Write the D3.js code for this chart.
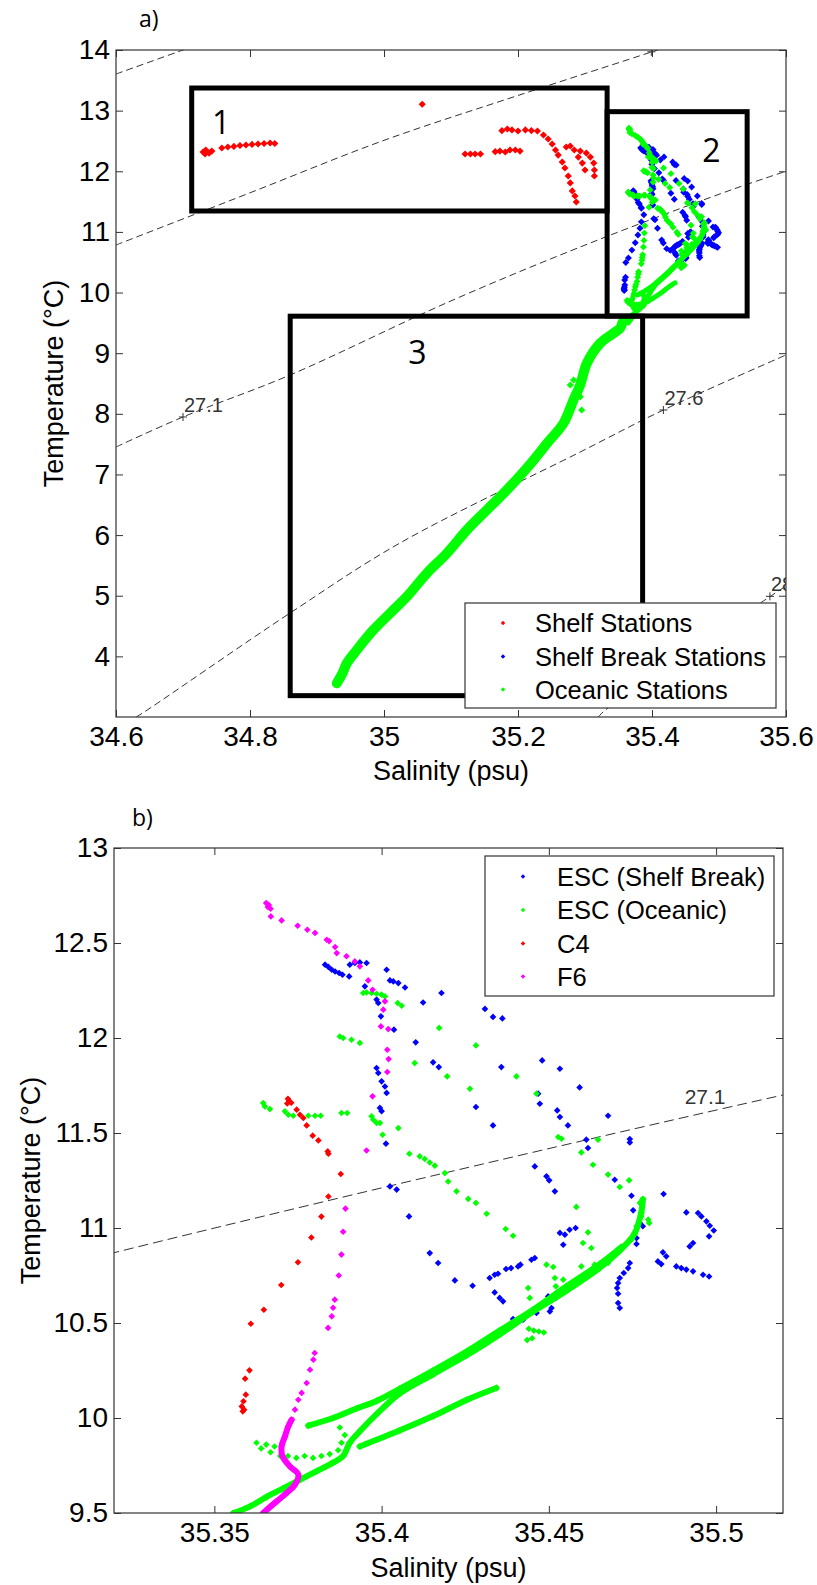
<!DOCTYPE html>
<html>
<head>
<meta charset="utf-8">
<script src="https://cdn.jsdelivr.net/npm/d3@7"></script>
<style>
  body { margin: 0; background: #fff; }
  svg text { font-family: "Liberation Sans", Arial, sans-serif; }
</style>
</head>
<body>
<svg id="chart" width="817" height="1585"></svg>
<script>
// ---- data: [salinity (psu), temperature (degC)] ----

// panel a, shelf stations (red)
const shelfStations = [
  [34.730,12.318],[34.734,12.351],[34.739,12.301],[34.743,12.334],[34.733,12.285],
  [34.758,12.384],[34.767,12.400],[34.776,12.409],[34.785,12.425],[34.794,12.433],
  [34.803,12.442],[34.812,12.450],[34.821,12.458],[34.830,12.466],[34.837,12.458],
  [35.057,13.105],
  [35.121,12.285],[35.129,12.285],[35.136,12.285],[35.144,12.285],
  [35.166,12.323],[35.173,12.334],[35.181,12.318],[35.188,12.351],[35.196,12.351],[35.203,12.334],
  [35.176,12.669],[35.184,12.697],[35.191,12.681],[35.200,12.664],[35.211,12.681],[35.220,12.672],[35.229,12.664],
  [35.238,12.598],[35.245,12.532],[35.251,12.450],[35.256,12.351],[35.260,12.268],[35.266,12.153],
  [35.270,12.054],[35.275,11.922],[35.278,11.807],[35.281,11.675],[35.285,11.592],[35.287,11.493],
  [35.272,12.400],[35.278,12.417],[35.284,12.351],[35.290,12.235],[35.296,12.136],[35.300,12.021],
  [35.293,12.334],[35.302,12.301],[35.308,12.235],[35.313,12.136],[35.314,12.021],[35.314,11.922]
];

// ESC shelf break stations (blue)
const escShelfBreak = [
  [35.3831,12.386],[35.3841,12.374],[35.3851,12.359],[35.3861,12.350],[35.3873,12.342],[35.3883,12.333],
  [35.3903,12.324],[35.3905,12.386],[35.3920,12.395],[35.3935,12.398],[35.3955,12.395],[35.3950,12.272],
  [35.3985,12.202],[35.3990,12.184],[35.3998,12.114],[35.4015,12.359],[35.4025,12.303],[35.4035,12.298],
  [35.4050,12.289],[35.4070,12.266],[35.4037,12.044],[35.4124,12.187],[35.4179,12.237],[35.4102,11.977],
  [35.4154,11.872],[35.4171,11.847],[35.3985,11.842],[35.3990,11.816],[35.4000,11.772],[35.4010,11.745],
  [35.4015,11.711],[35.3995,11.632],[35.4000,11.615],[35.4013,11.444],[35.4025,11.219],[35.4045,11.202],
  [35.4082,11.061],
  [35.4309,12.153],[35.4333,12.111],[35.4361,12.103],[35.4358,11.847],[35.4480,11.882],[35.4533,11.838],
  [35.4592,11.740],[35.4468,11.707],[35.4473,11.654],[35.4525,11.619],[35.4533,11.584],[35.4557,11.540],
  [35.4677,11.591],[35.4282,11.637],[35.4333,11.540],[35.4612,11.465],[35.4617,11.421],[35.4742,11.468],
  [35.4742,11.450],
  [35.4458,11.324],[35.4493,11.272],[35.4501,11.251],[35.4518,11.193],[35.4144,10.868],[35.4169,10.816],
  [35.4219,10.724],[35.4272,10.696],[35.4323,10.737],[35.4338,10.754],[35.4348,10.759],[35.4372,10.784],
  [35.4387,10.789],[35.4408,10.798],[35.4415,10.807],[35.4448,10.833],[35.4458,10.842],[35.4338,10.661],
  [35.4353,10.632],[35.4363,10.614],[35.4393,10.521],[35.4408,10.517],[35.4423,10.517],[35.4463,10.553],
  [35.4503,10.561],[35.4508,10.579],[35.4521,10.632],[35.4498,10.640],[35.4523,10.658],[35.4533,10.974],
  [35.4548,10.965],[35.4562,10.991],[35.4580,11.000],[35.4543,10.912],[35.4697,11.254],[35.4747,11.170],
  [35.4752,11.093],[35.4772,11.026],[35.4781,11.009],[35.4762,10.947],[35.4762,10.916],[35.4742,10.816],
  [35.4737,10.789],[35.4724,10.763],[35.4712,10.737],[35.4707,10.710],[35.4704,10.684],[35.4707,10.654],
  [35.4707,10.605],[35.4712,10.579],[35.4843,11.179],[35.4911,11.082],[35.4946,11.079],[35.4956,11.061],
  [35.4971,11.035],[35.4981,11.012],[35.4993,10.987],[35.4979,10.956],[35.4931,10.921],[35.4921,10.903],
  [35.4841,10.872],[35.4851,10.851],[35.4826,10.824],[35.4836,10.810],[35.4881,10.798],[35.4896,10.789],
  [35.4911,10.781],[35.4931,10.772],[35.4961,10.754],[35.4979,10.745]
];

// ESC oceanic stations (green), scattered part
const escOceanic = [
  [35.3945,12.237],[35.3955,12.240],[35.3970,12.237],[35.3985,12.233],[35.4000,12.228],[35.4010,12.219],
  [35.4048,12.184],[35.4060,12.170],[35.4172,12.053],[35.3875,12.008],[35.3885,12.000],[35.3910,11.991],
  [35.3935,11.974],[35.4099,11.868],[35.4196,11.798],
  [35.3646,11.658],[35.3651,11.640],[35.3666,11.626],[35.3711,11.614],[35.3721,11.596],[35.3736,11.591],
  [35.3781,11.591],[35.3801,11.591],[35.3818,11.591],[35.3880,11.605],[35.3897,11.605],[35.3970,11.588],
  [35.3975,11.570],[35.3985,11.553],[35.3995,11.553],[35.4003,11.491],[35.4050,11.526],[35.4083,11.391],
  [35.4114,11.377],[35.4129,11.363],[35.4144,11.345],[35.4159,11.328],[35.4189,11.289],[35.4199,11.245],
  [35.4282,11.961],[35.4403,11.798],[35.4264,11.733],[35.4463,11.707],[35.4528,11.479],[35.4538,11.470],
  [35.4647,11.465],[35.4597,11.398],
  [35.4224,11.193],[35.4259,11.153],[35.4282,11.132],[35.4314,11.075],[35.4371,10.995],[35.4393,10.959],
  [35.4632,11.333],[35.4677,11.281],[35.4712,11.216],[35.4740,11.251],[35.4582,11.111],[35.4617,10.977],
  [35.4602,10.921],[35.4627,10.895],[35.4781,11.153],[35.4772,11.132],[35.4776,11.079],[35.4776,11.062],
  [35.4797,11.044],[35.4800,11.026],[35.4762,11.009],[35.4756,10.974],[35.4747,10.939],[35.4717,10.895],
  [35.4712,10.877],[35.4692,10.851],[35.4677,10.816],[35.4657,10.807],[35.4637,10.807],[35.4627,10.781],
  [35.4597,10.798],[35.4493,10.807],[35.4513,10.795],[35.4518,10.737],[35.4543,10.728],[35.4438,10.684],
  [35.4443,10.632],[35.4521,10.693],[35.4440,10.470],[35.4455,10.460],[35.4470,10.455],[35.4485,10.450],
  [35.4435,10.410],[35.4450,10.420],
  [35.3626,9.870],[35.3640,9.840],[35.3655,9.860],[35.3668,9.820],[35.3680,9.850],[35.3697,9.800],
  [35.3720,9.800],[35.3745,9.790],[35.3770,9.800],[35.3795,9.790],[35.3820,9.800],[35.3845,9.810],
  [35.3870,9.830],[35.3880,9.870],[35.3890,9.910],[35.3875,9.950]
];

// ESC oceanic stations (green), dense profiles
const oceanicBandMain = [
  [35.3557,9.500],[35.3607,9.535],[35.3656,9.585],[35.3706,9.630],[35.3756,9.675],[35.3806,9.720],
  [35.3855,9.765],[35.3885,9.800],[35.3905,9.870],[35.3935,9.930],[35.3985,10.020],[35.4055,10.130],
  [35.4154,10.230],[35.4254,10.330],[35.4353,10.440],[35.4453,10.560],[35.4553,10.670],[35.4652,10.790],
  [35.4717,10.890],[35.4756,10.970],[35.4776,11.080],[35.4781,11.150]
];
const oceanicBandUpper = [
  [35.3781,9.960],[35.3855,10.000],[35.3925,10.050],[35.3985,10.090],[35.4055,10.155],[35.4154,10.250],
  [35.4254,10.350],[35.4353,10.460],[35.4453,10.570],[35.4550,10.690],[35.4652,10.810],[35.4717,10.900]
];
const oceanicBandLower = [
  [35.3935,9.850],[35.4055,9.935],[35.4154,10.010],[35.4254,10.095],[35.4343,10.158]
];

// C4 (red in panel b)
const c4 = [
  [35.3720,11.680],[35.3723,11.670],[35.3730,11.659],[35.3718,11.655],[35.3746,11.623],[35.3756,11.596],
  [35.3766,11.579],[35.3776,11.540],[35.3794,11.486],[35.3811,11.461],[35.3839,11.403],[35.3841,11.391],
  [35.3878,11.284],[35.3841,11.166],[35.3820,11.060],[35.3790,10.950],[35.3750,10.820],[35.3700,10.700],
  [35.3648,10.570],[35.3609,10.496],[35.3605,10.251],[35.3592,10.207],[35.3594,10.123],[35.3587,10.088],
  [35.3582,10.061],[35.3589,10.044],[35.3585,10.035]
];

// F6 (magenta in panel b)
const f6 = [
  [35.3655,12.710],[35.3660,12.690],[35.3668,12.680],[35.3663,12.700],[35.3669,12.640],[35.3701,12.619],
  [35.3749,12.591],[35.3778,12.570],[35.3801,12.553],[35.3836,12.517],[35.3843,12.510],[35.3861,12.479],
  [35.3866,12.447],[35.3895,12.430],[35.3920,12.403],[35.3935,12.377],[35.3960,12.303],[35.3973,12.254],
  [35.4010,12.193],[35.4005,12.149],[35.3998,12.061],[35.4020,12.047],[35.4017,11.938],[35.4021,11.889],
  [35.4017,11.821],[35.3973,11.693],[35.3955,11.408],[35.3892,11.102],[35.3885,10.980],[35.3880,10.860],
  [35.3872,10.750],[35.3860,10.623],[35.3855,10.580],[35.3851,10.535],[35.3840,10.474],[35.3800,10.342],
  [35.3796,10.307],[35.3786,10.254],[35.3776,10.184],[35.3761,10.132],[35.3751,10.096],[35.3741,10.044]
];
const f6Deep = [
  [35.3731,9.991],[35.3721,9.956],[35.3711,9.903],[35.3701,9.851],[35.3704,9.798],[35.3726,9.745],
  [35.3751,9.702],[35.3741,9.649],[35.3716,9.605],[35.3686,9.561],[35.3646,9.500]
];

// panel a, deep part of the oceanic profiles
const oceanicDeep = [
  [34.9296,3.556],[34.9380,3.720],[34.9445,3.886],[34.9594,4.105],[34.9842,4.435],[35.0091,4.711],
  [35.0341,4.984],[35.0639,5.370],[35.0938,5.700],[35.1237,6.084],[35.1535,6.414],[35.1834,6.744],
  [35.2133,7.107],[35.2451,7.536],[35.2679,7.844],[35.2828,8.228],[35.2928,8.476],[35.3028,8.834],
  [35.3227,9.163],[35.3426,9.328],[35.3526,9.415],[35.3557,9.500]
];
const oceanicDeepBump = [[35.278,8.475],[35.283,8.558],[35.293,8.283],[35.295,8.063],[35.288,8.38]];

// isopycnals (sigma-theta)
const sigma261 = [[34.6,13.604],[34.7,14.0],[34.72,14.08]];
const sigma266 = [[34.6,10.784],[34.8,11.645],[35.0,12.51],[35.2,13.25],[35.4,13.97],[35.43,14.08]];
const sigma271 = [[34.6,7.453],[34.7,7.948],[34.86,8.641],[35.103,9.877],[35.32,10.87],[35.52,11.70],[35.6,12.0]];
const sigma276 = [[34.63,3.0],[34.64,3.067],[34.86,4.716],[35.024,5.87],[35.293,7.371],[35.417,8.063],[35.6,8.97]];
const sigma281 = [[35.32,3.0],[35.327,3.083],[35.578,5.0],[35.6,5.16]];
const contourLabelsA = [
  { s: 34.700, t: 7.948, text: "27.1" },
  { s: 35.417, t: 8.063, text: "27.6" },
  { s: 35.576, t: 4.99, text: "28.1" },
  { s: 35.399, t: 13.97, text: "26.6" }
];
const contourLabelsB = [{ s: 35.4906, t: 11.654, text: "27.1" }];

// water-mass boxes in panel a
const regionBoxes = [
  { label: "1", s0: 34.713, s1: 35.333, t0: 11.345, t1: 13.373, ls: 34.757, lt: 12.615 },
  { label: "2", s0: 35.333, s1: 35.542, t0: 9.614, t1: 12.983, ls: 35.4885, lt: 12.153 },
  { label: "3", s0: 34.860, s1: 35.386, t0: 3.352, t1: 9.610, ls: 35.050, lt: 8.822 }
];

const xTicksA = [34.6, 34.8, 35, 35.2, 35.4, 35.6];
const yTicksA = [4, 5, 6, 7, 8, 9, 10, 11, 12, 13, 14];
const xTicksB = [35.35, 35.4, 35.45, 35.5];
const yTicksB = [9.5, 10, 10.5, 11, 11.5, 12, 12.5, 13];

const legendA = [
  { name: "Shelf Stations", color: "#ff0000" },
  { name: "Shelf Break Stations", color: "#0000ff" },
  { name: "Oceanic Stations", color: "#00ff00" }
];
const legendB = [
  { name: "ESC (Shelf Break)", color: "#0000ff" },
  { name: "ESC (Oceanic)", color: "#00ff00" },
  { name: "C4", color: "#ff0000" },
  { name: "F6", color: "#ff00ff" }
];

// ---- drawing ----
const svg = d3.select("#chart");
// MATLAB '.' markers look like small squat rhombi
const marker = d3.symbol().type(d3.symbolSquare);

function makePanel(p) {
  const x = d3.scaleLinear().domain(p.xDomain).range([p.left, p.right]);
  const y = d3.scaleLinear().domain(p.yDomain).range([p.bottom, p.top]);

  svg.append("clipPath").attr("id", "clip-" + p.name)
    .append("rect")
    .attr("x", p.left).attr("y", p.top)
    .attr("width", p.right - p.left).attr("height", p.bottom - p.top);

  const plot = svg.append("g").attr("clip-path", `url(#clip-${p.name})`);

  // axes, ticks pointing inward
  const fmt = d3.format("~g");
  const axes = svg.append("g").attr("class", "axes");
  axes.append("g").attr("transform", `translate(0,${p.bottom})`)
    .call(d3.axisBottom(x).tickValues(p.xTicks).tickFormat(fmt).tickSizeInner(-7).tickSizeOuter(0).tickPadding(9));
  axes.append("g").attr("transform", `translate(0,${p.top})`)
    .call(d3.axisTop(x).tickValues(p.xTicks).tickFormat("").tickSizeInner(-7).tickSizeOuter(0));
  axes.append("g").attr("transform", `translate(${p.left},0)`)
    .call(d3.axisLeft(y).tickValues(p.yTicks).tickFormat(fmt).tickSizeInner(-7).tickSizeOuter(0).tickPadding(6));
  axes.append("g").attr("transform", `translate(${p.right},0)`)
    .call(d3.axisRight(y).tickValues(p.yTicks).tickFormat("").tickSizeInner(-7).tickSizeOuter(0));
  axes.selectAll(".domain").remove();
  axes.selectAll(".tick line").attr("stroke", "#333");
  axes.selectAll(".tick text").attr("font-size", 28).attr("fill", "#000")
    .style("font-family", '"Liberation Sans", Arial, sans-serif');
  svg.append("rect")
    .attr("x", p.left).attr("y", p.top)
    .attr("width", p.right - p.left).attr("height", p.bottom - p.top)
    .attr("fill", "none").attr("stroke", "#333").attr("stroke-width", 1.2);

  // axis titles
  svg.append("text")
    .attr("x", (p.left + p.right) / 2).attr("y", p.xLabelY)
    .attr("text-anchor", "middle").attr("font-size", 27)
    .text("Salinity (psu)");
  svg.append("text")
    .attr("transform", `translate(${p.yLabelX},${(p.top + p.bottom) / 2}) rotate(-90)`)
    .attr("text-anchor", "middle").attr("font-size", 27)
    .text("Temperature (\u00B0C)");
  svg.append("text")
    .attr("x", p.tagX).attr("y", p.tagY)
    .attr("font-size", 23).style("font-family", '"Open Sans", sans-serif')
    .text(p.tag);

  return { x, y, plot };
}

function isoLine(g, x, y, pts, dash) {
  g.append("path").datum(pts)
    .attr("d", d3.line().x(d => x(d[0])).y(d => y(d[1])).curve(d3.curveCatmullRom))
    .attr("fill", "none").attr("stroke", "#333").attr("stroke-width", 1)
    .attr("stroke-dasharray", dash);
}

function dots(g, x, y, data, color, size) {
  g.append("g").selectAll("path").data(data).enter().append("path")
    .attr("transform", d => `translate(${x(d[0])},${y(d[1])}) rotate(45)`)
    .attr("d", marker.size(size)())
    .attr("fill", color);
}

function band(g, x, y, data, color, width) {
  g.append("path").datum(data)
    .attr("d", d3.line().x(d => x(d[0])).y(d => y(d[1])).curve(d3.curveCatmullRom))
    .attr("fill", "none").attr("stroke", color).attr("stroke-width", width)
    .attr("stroke-linejoin", "round").attr("stroke-linecap", "round");
}

function legend(items, box, rowY, markX, textX) {
  const lg = svg.append("g");
  lg.append("rect")
    .attr("x", box[0]).attr("y", box[1]).attr("width", box[2]).attr("height", box[3])
    .attr("fill", "#fff").attr("stroke", "#333").attr("stroke-width", 1.2);
  items.forEach((it, i) => {
    lg.append("path")
      .attr("transform", `translate(${markX},${rowY[i]}) rotate(45)`)
      .attr("d", marker.size(10)()).attr("fill", it.color);
    lg.append("text")
      .attr("x", textX).attr("y", rowY[i]).attr("dy", "0.36em")
      .attr("font-size", 25.5).text(it.name);
  });
}

// ---------- panel a ----------
const A = makePanel({
  name: "a", left: 116, right: 786, top: 50, bottom: 717,
  xDomain: [34.6, 35.6], yDomain: [3, 14],
  xTicks: xTicksA, yTicks: yTicksA,
  xLabelY: 780, yLabelX: 63, tag: "a)", tagX: 139, tagY: 27
});

[sigma261, sigma266, sigma271, sigma276, sigma281].forEach(s => isoLine(A.plot, A.x, A.y, s, "7,4"));
contourLabelsA.forEach(c => {
  const cx = A.x(c.s), cy = A.y(c.t);
  A.plot.append("path")
    .attr("d", `M${cx - 4},${cy}H${cx + 4}M${cx},${cy - 4}V${cy + 4}`)
    .attr("stroke", "#333").attr("stroke-width", 1);
  A.plot.append("text")
    .attr("x", cx + 1).attr("y", cy - 5)
    .attr("font-size", 20).attr("fill", "#333").text(c.text);
});

// water-mass boxes
regionBoxes.forEach(b => {
  svg.append("rect")
    .attr("x", A.x(b.s0)).attr("y", A.y(b.t1))
    .attr("width", A.x(b.s1) - A.x(b.s0)).attr("height", A.y(b.t0) - A.y(b.t1))
    .attr("fill", "none").attr("stroke", "#000").attr("stroke-width", 5);
  svg.append("text")
    .attr("x", A.x(b.ls)).attr("y", A.y(b.lt))
    .attr("text-anchor", "middle").attr("font-size", 32)
    .style("font-family", '"Open Sans", sans-serif')
    .text(b.label);
});

dots(A.plot, A.x, A.y, shelfStations, "#ff0000", 26);
dots(A.plot, A.x, A.y, escShelfBreak.concat(c4), "#0000ff", 24);
band(A.plot, A.x, A.y, oceanicDeep, "#00ff00", 10);
dots(A.plot, A.x, A.y, oceanicDeepBump, "#00ff00", 26);
[oceanicBandMain, oceanicBandUpper, oceanicBandLower, f6Deep].forEach(b => band(A.plot, A.x, A.y, b, "#00ff00", 5));
dots(A.plot, A.x, A.y, escOceanic.concat(f6), "#00ff00", 24);

legend(legendA, [465, 603, 311, 105], [623, 656.5, 689.5], 503, 535);

// ---------- panel b ----------
const B = makePanel({
  name: "b", left: 114, right: 783, top: 848, bottom: 1513,
  xDomain: [35.32, 35.52], yDomain: [9.5, 13],
  xTicks: xTicksB, yTicks: yTicksB,
  xLabelY: 1577, yLabelX: 40, tag: "b)", tagX: 132, tagY: 826
});

isoLine(B.plot, B.x, B.y, sigma271, "10,5");
contourLabelsB.forEach(c => {
  B.plot.append("text")
    .attr("x", B.x(c.s)).attr("y", B.y(c.t))
    .attr("font-size", 21).attr("fill", "#333").text(c.text);
});

dots(B.plot, B.x, B.y, escShelfBreak, "#0000ff", 22);
[oceanicBandMain, oceanicBandUpper, oceanicBandLower].forEach(b => band(B.plot, B.x, B.y, b, "#00ff00", 6));
dots(B.plot, B.x, B.y, oceanicBandMain.concat(oceanicBandUpper, oceanicBandLower), "#00ff00", 26);
dots(B.plot, B.x, B.y, escOceanic, "#00ff00", 22);
dots(B.plot, B.x, B.y, c4, "#ff0000", 22);
band(B.plot, B.x, B.y, f6Deep, "#ff00ff", 6);
dots(B.plot, B.x, B.y, f6.concat(f6Deep), "#ff00ff", 22);

legend(legendB, [485, 856, 289, 140], [876.5, 910, 943.5, 976.5], 523, 557);
</script>
</body>
</html>
